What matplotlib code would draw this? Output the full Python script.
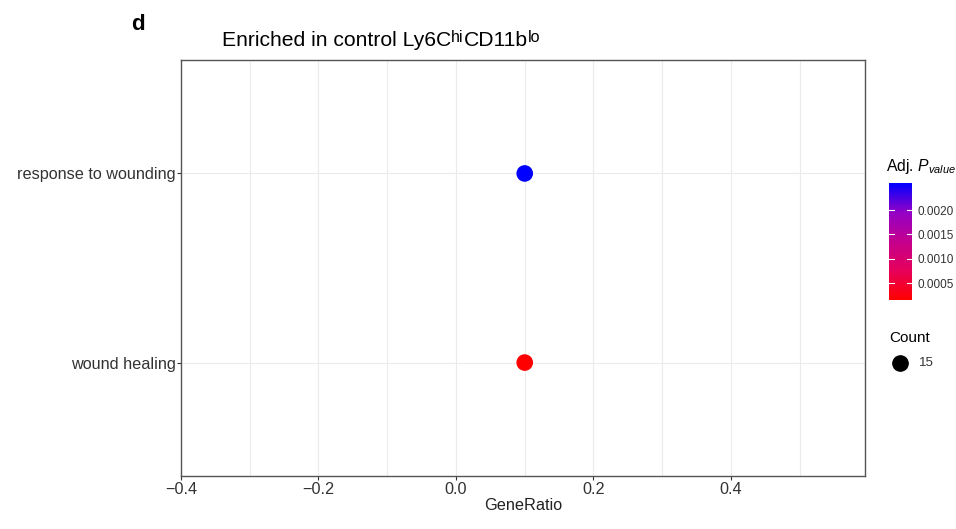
import numpy as np
import matplotlib
matplotlib.use('Agg')
import matplotlib.pyplot as plt
from matplotlib.colors import LinearSegmentedColormap, Normalize
from matplotlib.lines import Line2D

plt.rcParams['font.family'] = ['Liberation Sans', 'DejaVu Sans']
plt.rcParams['mathtext.fontset'] = 'custom'
plt.rcParams['mathtext.rm'] = 'Liberation Sans'
plt.rcParams['mathtext.it'] = 'Liberation Sans:italic'

terms = ['wound healing', 'response to wounding']
gene_ratio = [0.1, 0.1]
p_adj = [0.00015, 0.00256]
counts = [15, 15]

# red -> blue, blended roughly as ggplot does (through magenta/purple)
cmap = LinearSegmentedColormap.from_list(
    'rb', ['#FF0000', '#E6005A', '#C4008E', '#9300C6', '#0000FF'])
norm = Normalize(vmin=min(p_adj), vmax=max(p_adj))

fig = plt.figure(figsize=(9.56, 5.29), dpi=100)
ax = fig.add_axes([181/956, 1-476/529, (865-181)/956, (476-60)/529])

ypos = np.arange(len(terms)) + 1
ax.scatter(gene_ratio, ypos, c=p_adj, cmap=cmap, norm=norm, s=120, zorder=3)

ax.set_xlim(-0.4, 0.595)
ax.set_ylim(0.4, 2.6)
ax.set_xticks([-0.4, -0.2, 0.0, 0.2, 0.4])
ax.set_xticklabels(['\u22120.4', '\u22120.2', '0.0', '0.2', '0.4'])
ax.set_xticks([-0.3, -0.1, 0.1, 0.3, 0.5], minor=True)
ax.set_yticks(ypos)
ax.set_yticklabels(terms)
ax.tick_params(axis='both', which='major', labelsize=11.7, color='#333333',
               labelcolor='#333333', length=3, width=0.8, pad=1)
ax.tick_params(axis='x', which='minor', length=0)
ax.grid(which='major', color='#EBEBEB', lw=0.8)
ax.grid(which='minor', axis='x', color='#EBEBEB', lw=0.8)
ax.set_axisbelow(True)
for s in ax.spines.values():
    s.set_color('#555555')
    s.set_linewidth(1.0)
ax.set_xlabel('GeneRatio', fontsize=11.7, labelpad=1, color='#222222')

# title with small superscripts, laid out piece by piece
fig.canvas.draw()
r = fig.canvas.get_renderer()
x0 = 222
base_y = 1 - 46/529
pieces = [('Enriched in control Ly6C', 15.2, 0), ('hi', 11.5, 4), ('CD11b', 15.2, 0), ('lo', 11.5, 4)]
for txt, fs, dy in pieces:
    t = fig.text(x0/956, base_y + dy/529, txt, fontsize=fs, va='baseline', ha='left')
    x0 = t.get_window_extent(r).x1

fig.text(131/956, 1-25/529, 'd', fontsize=16, fontweight='bold', va='center', ha='left')

# colour bar legend
cax = fig.add_axes([889/956, 1-300/529, 23/956, 117/529])
sm = matplotlib.cm.ScalarMappable(norm=norm, cmap=cmap)
cb = fig.colorbar(sm, cax=cax, ticks=[0.0005, 0.0010, 0.0015, 0.0020])
cb.ax.set_yticklabels(['0.0005', '0.0010', '0.0015', '0.0020'])
cb.outline.set_visible(False)
cb.ax.tick_params(length=0, labelsize=8.5, pad=4, labelcolor='#333333')
for t in [0.0005, 0.0010, 0.0015, 0.0020]:
    cb.ax.plot([0, 0.2], [t, t], color='white', lw=0.8, transform=cb.ax.get_yaxis_transform())
    cb.ax.plot([0.8, 1], [t, t], color='white', lw=0.8, transform=cb.ax.get_yaxis_transform())
fig.text(886/956, 1-167/529, r'Adj. $P_{value}$', fontsize=11.3, va='center', ha='left')

fig.text(889/956, 1-338/529, 'Count', fontsize=11, va='center', ha='left')
fig.lines.append(Line2D([900/956], [1-363/529], marker='o', color='black', markersize=11,
                        transform=fig.transFigure, linestyle='none'))
fig.text(919/956, 1-363/529, str(counts[0]), fontsize=9.5, va='center', ha='left',
         color='#333333')

fig.savefig('out.png', dpi=100)
